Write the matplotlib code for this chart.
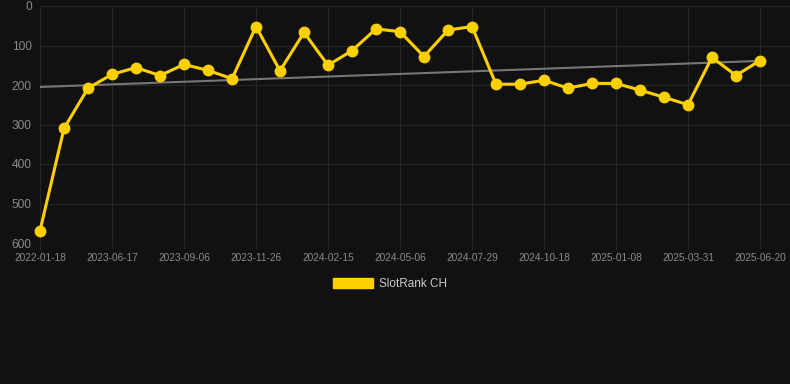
import numpy as np
import matplotlib.pyplot as plt
import matplotlib.patches as mpatches

# SlotRank CH rank history (lower = better)
ranks = [569, 310, 208, 173, 156, 176, 148, 163, 184, 52,
         164, 67, 150, 113, 58, 65, 128, 61, 52, 198,
         198, 188, 208, 196, 196, 213, 231, 250, 130, 176,
         138]
tick_labels = ['2022-01-18', '2023-06-17', '2023-09-06', '2023-11-26',
               '2024-02-15', '2024-05-06', '2024-07-29', '2024-10-18',
               '2025-01-08', '2025-03-31', '2025-06-20']
trend_ends = [205, 139]
y_ticks = [0, 100, 200, 300, 400, 500, 600]

bg = '#111111'
yellow = '#FFD000'

plt.rcParams['font.family'] = ['Liberation Sans', 'DejaVu Sans']

fig = plt.figure(figsize=(7.9, 3.84), dpi=100, facecolor=bg)
ax = fig.add_axes([40/790, (384-243)/384, 750/790, (243-6)/384])
ax.set_facecolor(bg)

x = np.arange(len(ranks))
ax.plot([x[0], x[-1]], trend_ends, color='#777777', lw=1.5, zorder=2)
ax.plot(x, ranks, color=yellow, lw=2.2, marker='o', ms=7.5, zorder=3, clip_on=False)

ax.set_ylim(600, 0)
ax.set_yticks(y_ticks)
ax.set_xlim(0, 31.25)
ax.set_xticks(x[::3])
ax.set_xticklabels(tick_labels)

ax.grid(True, color='#262626', lw=0.8)
ax.set_axisbelow(True)
for s in ax.spines.values():
    s.set_visible(False)
ax.tick_params(axis='y', colors='#8a8a8a', labelsize=8.6, length=0, pad=6)
ax.tick_params(axis='x', colors='#8a8a8a', labelsize=7.3, length=4, pad=3)
ax.tick_params(axis='x', color='#262626')

handle = mpatches.Patch(facecolor=yellow, edgecolor=yellow)
fig.legend([handle], ['SlotRank CH'], loc='center', bbox_to_anchor=(390/790, 1-284/384),
           frameon=False, labelcolor='#cccccc', fontsize=8.5,
           handlelength=3.4, handleheight=1.0, handletextpad=0.5)

fig.savefig('out.png', dpi=100, facecolor=bg)
